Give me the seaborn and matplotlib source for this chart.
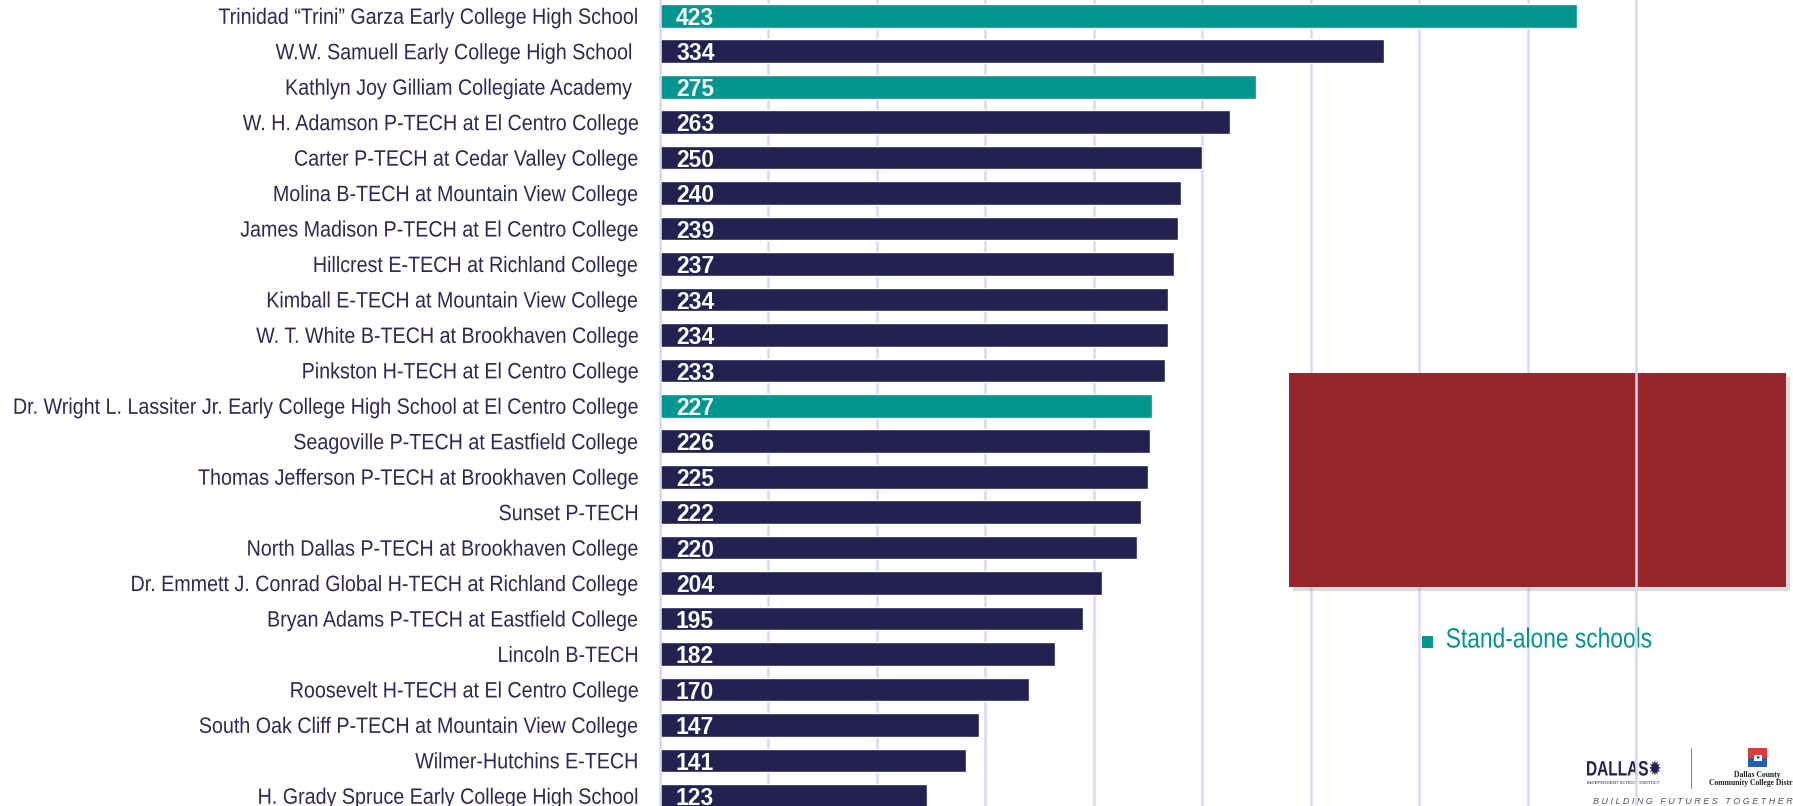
import matplotlib
matplotlib.use("Agg")
import matplotlib.pyplot as plt
import matplotlib.patheffects as pe
from matplotlib.patches import Rectangle
from matplotlib.lines import Line2D
from matplotlib import transforms
from matplotlib.transforms import Affine2D
import pandas as pd
import seaborn as sns

schools = [
    "Trinidad \u201cTrini\u201d Garza Early College High School",
    "W.W. Samuell Early College High School ",
    "Kathlyn Joy Gilliam Collegiate Academy ",
    "W. H. Adamson P-TECH at El Centro College",
    "Carter P-TECH at Cedar Valley College",
    "Molina B-TECH at Mountain View College",
    "James Madison P-TECH at El Centro College",
    "Hillcrest E-TECH at Richland College",
    "Kimball E-TECH at Mountain View College",
    "W. T. White B-TECH at Brookhaven College",
    "Pinkston H-TECH at El Centro College",
    "Dr. Wright L. Lassiter Jr. Early College High School at El Centro College",
    "Seagoville P-TECH at Eastfield College",
    "Thomas Jefferson P-TECH at Brookhaven College",
    "Sunset P-TECH",
    "North Dallas P-TECH at Brookhaven College",
    "Dr. Emmett J. Conrad Global H-TECH at Richland College",
    "Bryan Adams P-TECH at Eastfield College",
    "Lincoln B-TECH",
    "Roosevelt H-TECH at El Centro College",
    "South Oak Cliff P-TECH at Mountain View College",
    "Wilmer-Hutchins E-TECH",
    "H. Grady Spruce Early College High School",
]
enrollment = [423, 334, 275, 263, 250, 240, 239, 237, 234, 234, 233, 227,
              226, 225, 222, 220, 204, 195, 182, 170, 147, 141, 123]
stand_alone = [True, False, True, False, False, False, False, False, False,
               False, False, True, False, False, False, False, False, False,
               False, False, False, False, False]
legend_label = "Stand-alone schools"

df = pd.DataFrame({"school": schools, "students": enrollment,
                   "type": ["Stand-alone" if s else "Campus" for s in stand_alone]})

teal = "#00958f"
navy = "#222150"
grid_c = "#dcd8f2"
label_c = "#2b2a55"


# no Arial Narrow installed -> squeeze Liberation Sans sideways
class Squash(pe.AbstractPathEffect):
    def __init__(self, sx, anchor="left"):
        super().__init__()
        self.sx = sx
        self.anchor = anchor

    def draw_path(self, renderer, gc, tpath, affine, rgbFace=None):
        shift = 0
        if self.anchor == "right":
            shift = (1 - self.sx) * tpath.get_extents().x1
        a = Affine2D().scale(self.sx, 1).translate(shift, 0) + affine
        renderer.draw_path(gc, tpath, a, rgbFace)


sns.set_theme(style="white")
plt.rcParams["font.family"] = ["Liberation Sans", "DejaVu Sans"]

fig = plt.figure(figsize=(17.93, 8.06), dpi=100)
ax = fig.add_axes([660 / 1793, 0, (1636 - 660) / 1793, 1])

sns.barplot(data=df, x="students", y="school", hue="type",
            palette={"Stand-alone": teal, "Campus": navy},
            dodge=False, width=0.666, legend=False, orient="h", ax=ax,
            saturation=1)

ax.set_xlim(0, 450)
ax.set_ylim(22.288, -0.446)
ax.set_xticks(range(0, 451, 50))
ax.set_xticklabels([])
ax.grid(axis="x", color=grid_c, lw=1.8)
ax.set_axisbelow(True)
ax.set_xlabel("")
ax.set_ylabel("")
for s in ["top", "right", "bottom"]:
    ax.spines[s].set_visible(False)
ax.spines["left"].set_color(grid_c)
ax.spines["left"].set_linewidth(1.8)
ax.tick_params(axis="y", length=0, pad=15, labelsize=16, labelcolor=label_c)
ax.tick_params(axis="x", length=0)
for t in ax.get_yticklabels():
    t.set_path_effects([Squash(0.886, "right")])

for i, v in enumerate(df["students"]):
    ax.annotate(str(v), xy=(0, i), xytext=(11.5, -6.6), textcoords="offset points",
                va="baseline", ha="left", color="white", fontsize=16.5,
                fontweight="bold")

# red box with shadow
box = Rectangle((1289 / 1793, 219 / 806), 497 / 1793, 214 / 806,
                transform=fig.transFigure, facecolor="#96252c", edgecolor="none",
                zorder=1)
box.set_path_effects([pe.SimplePatchShadow(offset=(3, -3), shadow_rgbFace="#888888", alpha=0.3),
                      pe.Normal()])
fig.add_artist(box)

# legend
fig.add_artist(Rectangle((1421.7 / 1793, 158.3 / 806), 11.6 / 1793, 11.7 / 806,
                         transform=fig.transFigure, facecolor=teal, edgecolor="none"))
fig.text(1445.7 / 1793, 165.5 / 806, legend_label, color=teal, fontsize=20,
         va="center", ha="left", path_effects=[Squash(0.82)])

# logo
fig.text(1586 / 1793, 1 - 770 / 806, "DALLAS\u2739", color=navy, fontsize=15,
         fontweight="bold", va="center", ha="left", path_effects=[Squash(0.74)])
fig.text(1587 / 1793, 1 - 783 / 806, "INDEPENDENT SCHOOL DISTRICT", color=navy,
         fontsize=3.2, va="center", ha="left")
fig.add_artist(Line2D([1690.7 / 1793] * 2, [1 - 748 / 806, 1 - 788 / 806],
                      transform=fig.transFigure, color="#888888", lw=0.8))
fig.add_artist(Rectangle((1748 / 1793, 1 - 757.5 / 806), 19 / 1793, 9.8 / 806,
                         transform=fig.transFigure, facecolor="#e23a3a", edgecolor="none"))
fig.add_artist(Rectangle((1748 / 1793, 1 - 767.3 / 806), 19 / 1793, 9.8 / 806,
                         transform=fig.transFigure, facecolor="#1f5fb5", edgecolor="none"))
fig.add_artist(Rectangle((1753.5 / 1793, 1 - 760.5 / 806), 8 / 1793, 6 / 806,
                         transform=fig.transFigure, facecolor="white", edgecolor="none"))
fig.text(1757.5 / 1793, 1 - 757.5 / 806, "\u2605", color="black", fontsize=3.5,
         va="center", ha="center", family="DejaVu Sans")
fig.text(1757 / 1793, 1 - 775 / 806, "Dallas County", color="#222222", fontsize=5.5,
         fontweight="bold", va="center", ha="center", family="Liberation Serif")
fig.text(1709 / 1793, 1 - 783 / 806, "Community College District", color="#222222",
         fontsize=5.5, fontweight="bold", va="center", ha="left", family="Liberation Serif")
fig.text(1593 / 1793, 1 - 801 / 806, "B U I L D I N G   F U T U R E S   T O G E T H E R",
         color="#555555", fontsize=6.5, style="italic", va="center", ha="left")

# last gridline sits on top of the box
blend = transforms.blended_transform_factory(ax.transData, fig.transFigure)
fig.add_artist(Line2D([450, 450], [0, 1], transform=blend, color=grid_c, lw=1.8, zorder=5))

fig.savefig("out.png", dpi=100)
